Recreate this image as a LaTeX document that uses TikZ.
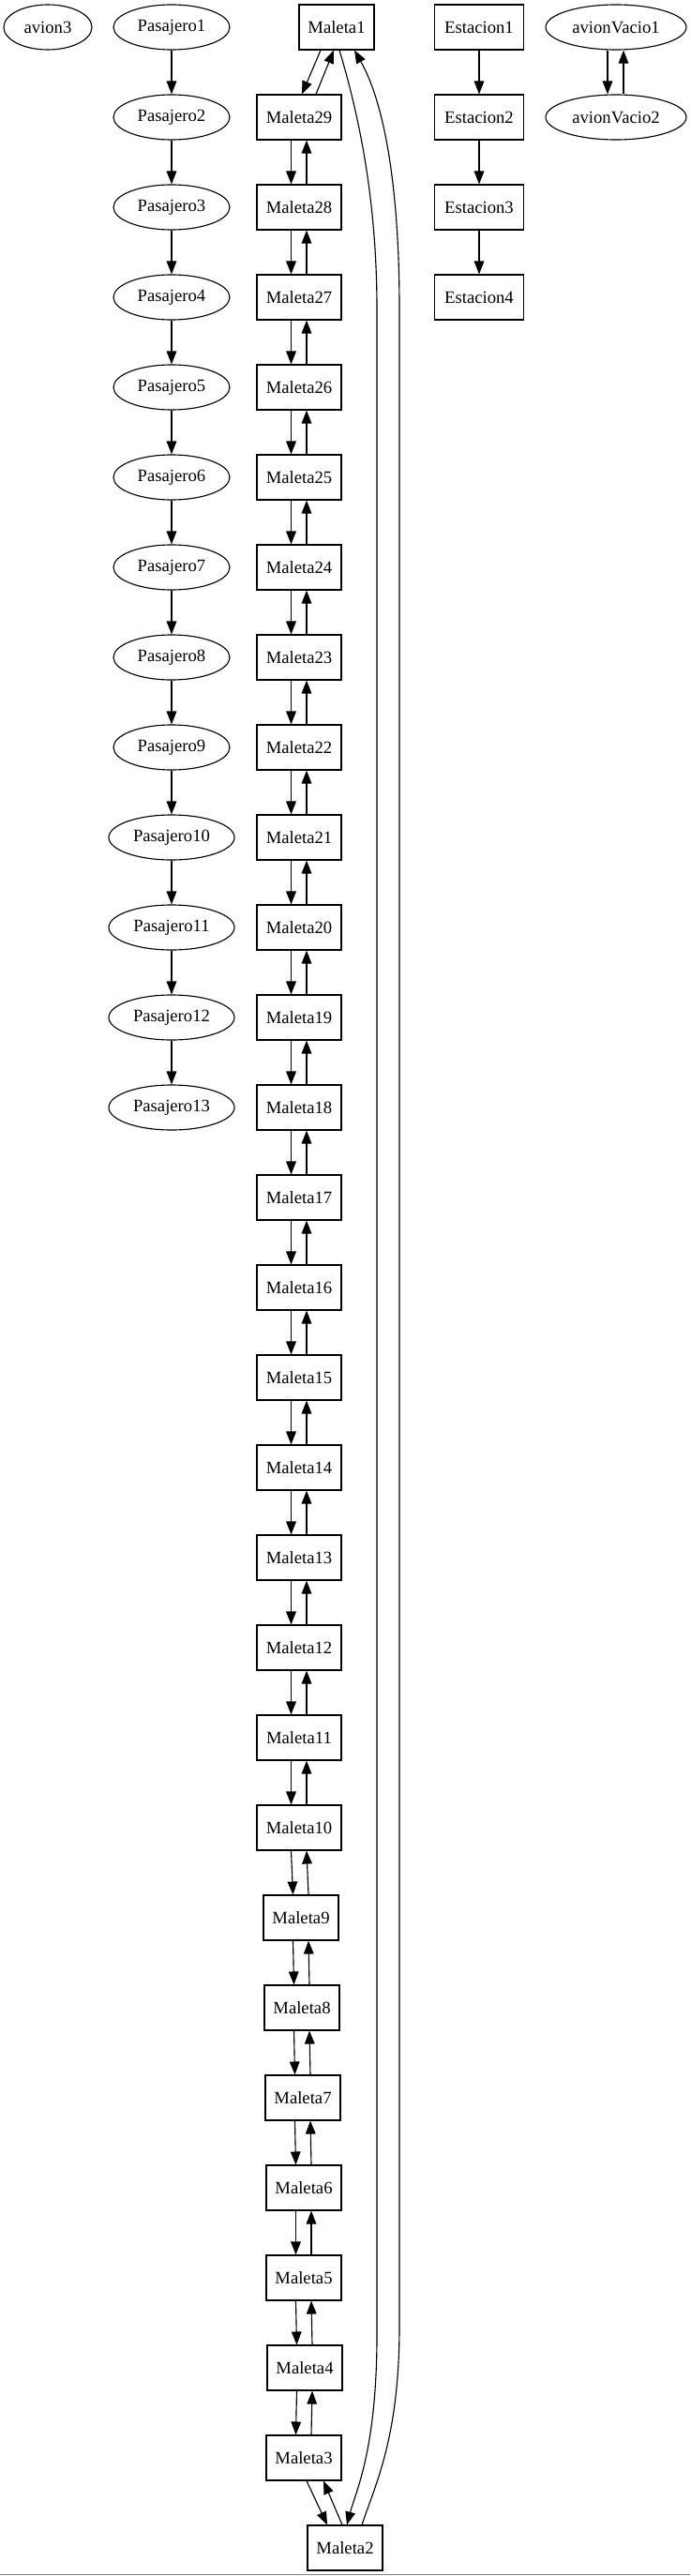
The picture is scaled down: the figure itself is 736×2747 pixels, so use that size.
\documentclass[tikz,border=0pt]{standalone}
\usepackage{fontspec}
\setmainfont{Liberation Serif}
\usetikzlibrary{arrows.meta,shapes.geometric}
\begin{document}
\begin{tikzpicture}[x=0.75pt,y=-0.75pt,
  every node/.style={font=\fontsize{14pt}{16pt}\selectfont, inner sep=0pt, line width=0.85pt},
  mbox/.style={draw, rectangle, minimum height=36pt, minimum width=60pt},
  mwide/.style={mbox, minimum width=67.5pt},
  ell/.style={draw, ellipse, minimum height=36pt},
  arr/.style={line width=0.85pt, -{Triangle[length=10.5pt,width=8pt]}}]
\useasboundingbox (0,0) rectangle (736,2747);
% nodes
\node[ell, minimum width=70.5pt] (avion3) at (51,29) {avion3};
\foreach \i in {1,...,9} {
  \node[ell, minimum width=93pt] (P\i) at (183,{29+96*(\i-1)}) {Pasajero\i};
}
\foreach \i in {10,...,13} {
  \node[ell, minimum width=100.5pt] (P\i) at (183,{29+96*(\i-1)}) {Pasajero\i};
}
\foreach \i in {1,...,4} {
  \node[mbox, minimum width=71.25pt] (E\i) at (511,{29+96*(\i-1)}) {Estacion\i};
}
\node[ell, minimum width=112.5pt] (AV1) at (657,29) {avionVacio1};
\node[ell, minimum width=112.5pt] (AV2) at (657,125) {avionVacio2};
\node[mbox] (M1) at (359,29) {Maleta1};
\foreach \k in {10,...,29} {
  \node[mwide] (M\k) at (319,{29+96*(30-\k)}) {Maleta\k};
}
\foreach \k/\x in {9/321,8/322,7/323,6/324,5/324,4/325,3/324} {
  \node[mbox] (M\k) at (\x,{29+96*(30-\k)}) {Maleta\k};
}
\node[mbox] (M2) at (368,2717) {Maleta2};
% edges
\foreach \i in {1,...,12} {
  \pgfmathtruncatemacro\j{\i+1}
  \draw[arr] (P\i) -- (P\j);
}
\foreach \i in {1,...,3} {
  \pgfmathtruncatemacro\j{\i+1}
  \draw[arr] (E\i) -- (E\j);
}
\draw[arr] ([xshift=-6.75pt]AV1.south) -- ([xshift=-6.75pt]AV2.north);
\draw[arr] ([xshift=6pt]AV2.north) -- ([xshift=6pt]AV1.south);
\draw[arr] ([xshift=-12.75pt]M1.south) -- ([xshift=2.25pt]M29.north);
\draw[arr] ([xshift=13.5pt]M29.north) -- ([xshift=-2.25pt]M1.south);
\foreach \k in {3,...,28} {
  \pgfmathtruncatemacro\u{\k+1}
  \draw[arr] ([xshift=-6.375pt]M\u.south) -- ([xshift=-6.375pt]M\k.north);
  \draw[arr] ([xshift=6pt]M\k.north) -- ([xshift=6pt]M\u.south);
}
\draw[arr] ([xshift=2.25pt]M3.south) -- ([xshift=-14.25pt]M2.north);
\draw[arr] ([xshift=-2.25pt]M2.north) -- ([xshift=15.75pt]M3.south);
\draw[arr] ([xshift=2.25pt]M1.south) .. controls (385,130) and (402,220) .. (402,330)
  -- (402,2480) .. controls (403,2610) and (380,2655) .. ([xshift=1.5pt]M2.north);
\draw[arr] ([xshift=13.5pt]M2.north) .. controls (400,2650) and (426,2600) .. (426,2480)
  -- (426,330) .. controls (426,200) and (410,110) .. ([xshift=14.25pt]M1.south);
% bottom rule
\draw[gray, line width=1.1pt] (0,2745.5) -- (736,2745.5);
\end{tikzpicture}
\end{document}
